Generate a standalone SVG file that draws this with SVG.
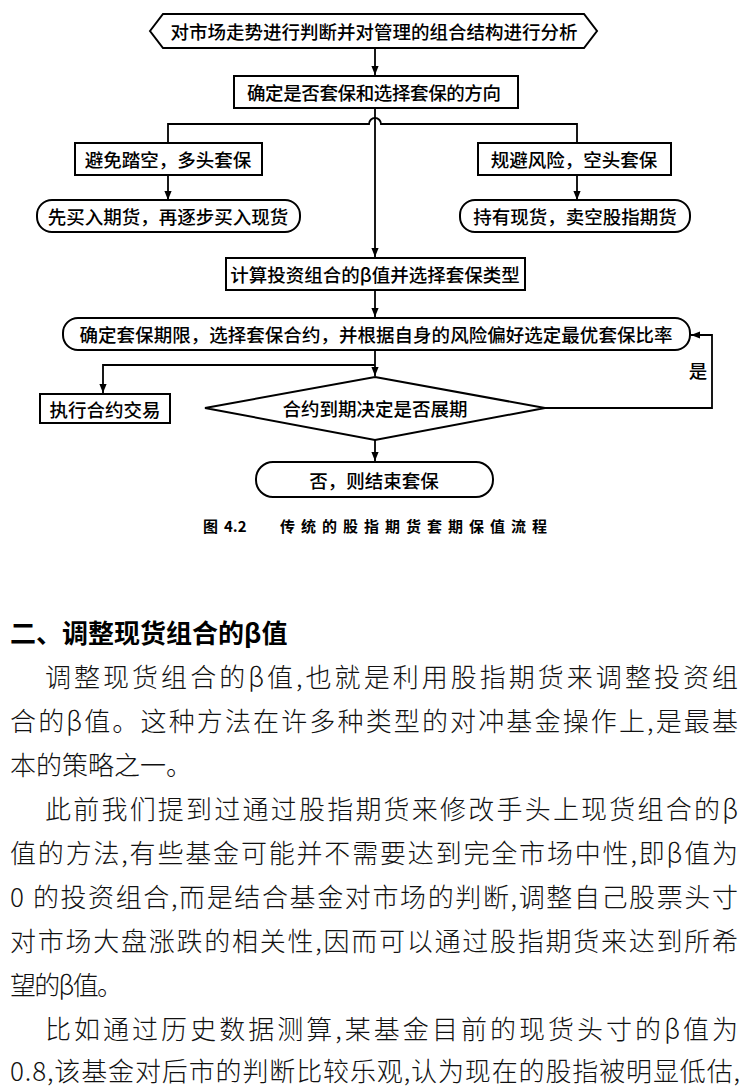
<svg xmlns="http://www.w3.org/2000/svg" width="750" height="1086" viewBox="0 0 750 1086">
<defs>
<marker id="ah" viewBox="0 0 10 10" refX="10" refY="5" markerWidth="9" markerHeight="9" markerUnits="userSpaceOnUse" orient="auto">
<path d="M0,1 L10,5 L0,9 Z" fill="#000"/>
</marker>
<style>
.sh{fill:#fff;stroke:#000;stroke-width:2}
.ln{fill:none;stroke:#000;stroke-width:1.8}
.ft{font-family:"Noto Sans CJK SC","Noto Sans",sans-serif;font-size:18.5px;font-weight:500;text-anchor:middle;dominant-baseline:central;fill:#000}
.bd{font-family:"Noto Sans CJK SC","Noto Sans",sans-serif;font-size:26px;font-weight:300;fill:#111}
.hd{font-family:"Noto Sans CJK SC","Noto Sans",sans-serif;font-size:26px;font-weight:700;fill:#000}
.cp{font-family:"Noto Sans CJK SC","Noto Sans",sans-serif;font-size:15px;font-weight:700;fill:#000}
</style>
</defs>
<rect width="750" height="1086" fill="#fff"/>

<g id="connectors">
<line class="ln" x1="375" y1="48" x2="375" y2="75" marker-end="url(#ah)"/>
<line class="ln" x1="375" y1="108" x2="375" y2="257" marker-end="url(#ah)"/>
<path class="ln" d="M168,143 V124 H369 A6,6 0 0 1 381,124 H577 V143"/>
<line class="ln" x1="168" y1="175" x2="168" y2="200" marker-end="url(#ah)"/>
<line class="ln" x1="577" y1="175" x2="577" y2="200" marker-end="url(#ah)"/>
<line class="ln" x1="375" y1="290" x2="375" y2="317" marker-end="url(#ah)"/>
<line class="ln" x1="375" y1="350" x2="375" y2="376" marker-end="url(#ah)"/>
<path class="ln" d="M375,365 H103 V393" marker-end="url(#ah)"/>
<path class="ln" d="M545,408 H712 V335 H691" marker-end="url(#ah)"/>
<line class="ln" x1="375" y1="440" x2="375" y2="461" marker-end="url(#ah)"/>
<text class="ft" x="698" y="370">是</text>
</g>

<g id="n1">
<polygon class="sh" points="150,31 163,14 584,14 597,31 584,48 163,48"/>
<text class="ft" x="374" y="31" textLength="407" lengthAdjust="spacing">对市场走势进行判断并对管理的组合结构进行分析</text>
</g>
<g id="n2">
<rect class="sh" x="234" y="76" width="284" height="32"/>
<text class="ft" x="374" y="92" textLength="254" lengthAdjust="spacing">确定是否套保和选择套保的方向</text>
</g>
<g id="n3">
<rect class="sh" x="75" y="143" width="187" height="32"/>
<text class="ft" x="168" y="159">避免踏空，多头套保</text>
</g>
<g id="n4">
<rect class="sh" x="478" y="143" width="193" height="32"/>
<text class="ft" x="574" y="159">规避风险，空头套保</text>
</g>
<g id="n5">
<rect class="sh" x="37" y="200" width="263" height="32" rx="15"/>
<text class="ft" x="168" y="216">先买入期货，再逐步买入现货</text>
</g>
<g id="n6">
<rect class="sh" x="460" y="200" width="230" height="32" rx="15"/>
<text class="ft" x="575" y="216">持有现货，卖空股指期货</text>
</g>
<g id="n7">
<rect class="sh" x="226" y="258" width="299" height="32"/>
<text class="ft" x="375" y="274">计算投资组合的β值并选择套保类型</text>
</g>
<g id="n8">
<rect class="sh" x="63" y="318" width="627" height="32" rx="15"/>
<text class="ft" x="376" y="334" textLength="593" lengthAdjust="spacing">确定套保期限，选择套保合约，并根据自身的风险偏好选定最优套保比率</text>
</g>
<g id="n9">
<rect class="sh" x="40" y="394" width="130" height="29"/>
<text class="ft" x="105" y="409">执行合约交易</text>
</g>
<g id="n10">
<polygon class="sh" points="375,377 545,408 375,440 205,408"/>
<text class="ft" x="375" y="408">合约到期决定是否展期</text>
</g>
<g id="n11">
<rect class="sh" x="256" y="462" width="237" height="35" rx="17"/>
<text class="ft" x="374" y="480">否，则结束套保</text>
</g>

<g id="caption">
<text class="cp" x="203" y="532">图</text>
<text class="cp" x="224" y="532" font-family="Liberation Serif" font-size="17">4.2</text>
<text class="cp" x="280" y="532" textLength="267" lengthAdjust="spacing">传统的股指期货套期保值流程</text>
</g>

<g id="body">
<text class="hd" x="10" y="643">二、调整现货组合的β值</text>
<text class="bd" x="45" y="687" textLength="693" lengthAdjust="spacing">调整现货组合的β值,也就是利用股指期货来调整投资组</text>
<text class="bd" x="10" y="731" textLength="728" lengthAdjust="spacing">合的β值。这种方法在许多种类型的对冲基金操作上,是最基</text>
<text class="bd" x="10" y="775" textLength="182" lengthAdjust="spacing">本的策略之一。</text>
<text class="bd" x="45" y="819" textLength="693" lengthAdjust="spacing">此前我们提到过通过股指期货来修改手头上现货组合的β</text>
<text class="bd" x="10" y="863" textLength="728" lengthAdjust="spacing">值的方法,有些基金可能并不需要达到完全市场中性,即β值为</text>
<text class="bd" x="10" y="907" textLength="728" lengthAdjust="spacing">0 的投资组合,而是结合基金对市场的判断,调整自己股票头寸</text>
<text class="bd" x="10" y="951" textLength="728" lengthAdjust="spacing">对市场大盘涨跌的相关性,因而可以通过股指期货来达到所希</text>
<text class="bd" x="10" y="995" textLength="113" lengthAdjust="spacing">望的β值。</text>
<text class="bd" x="45" y="1039" textLength="693" lengthAdjust="spacing">比如通过历史数据测算,某基金目前的现货头寸的β值为</text>
<text class="bd" x="10" y="1081" textLength="730" lengthAdjust="spacing">0.8,该基金对后市的判断比较乐观,认为现在的股指被明显低估,</text>
</g>
</svg>
